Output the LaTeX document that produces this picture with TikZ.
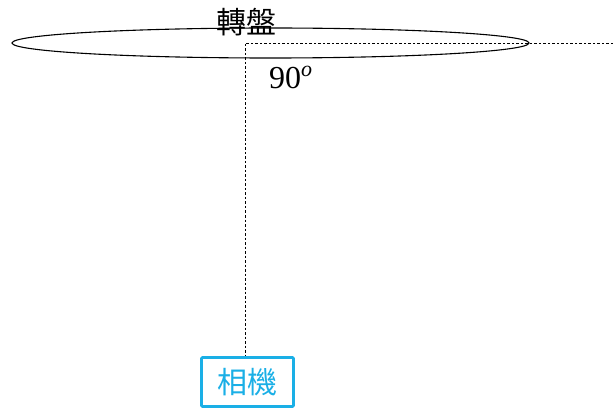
\documentclass[tikz,border=0pt]{standalone}
\usepackage{fontspec}
\newfontfamily\cjk{Noto Sans CJK TC}
\newfontfamily\serifnum{Liberation Serif}
\definecolor{camcyan}{HTML}{1AAFE6}
\tikzset{
  guide/.style={line width=0.6pt, dash pattern=on 2.5pt off 2pt},
  cambox/.style={draw=camcyan, line width=2.6pt, minimum width=92pt, minimum height=49pt, rounded corners=1pt, inner sep=0pt, text=camcyan, font=\cjk\fontsize{30}{32}\selectfont},
  lbl/.style={inner sep=0pt, font=\cjk\fontsize{30}{32}\selectfont}
}
\begin{document}
\begin{tikzpicture}[x=1pt,y=-1pt]
\useasboundingbox (0,0) rectangle (613,409);
\draw[line width=1.1pt] (270.5,43) ellipse [x radius=258.5, y radius=15];
\node[lbl] (turn) at (246,22) {轉盤};
\coordinate (corner) at (245,43);
\coordinate (right) at (613,43);
\node[cambox] (cam) at (247.5,382) {相機};
\draw[guide] (right) -- (corner) -- (corner |- cam.north);
\node[inner sep=0pt, anchor=base west, font=\serifnum\fontsize{32}{34}\selectfont] (ang) at (269,89) {90\raisebox{0.4em}{\fontsize{22}{24}\selectfont\itshape o}};
\end{tikzpicture}
\end{document}
